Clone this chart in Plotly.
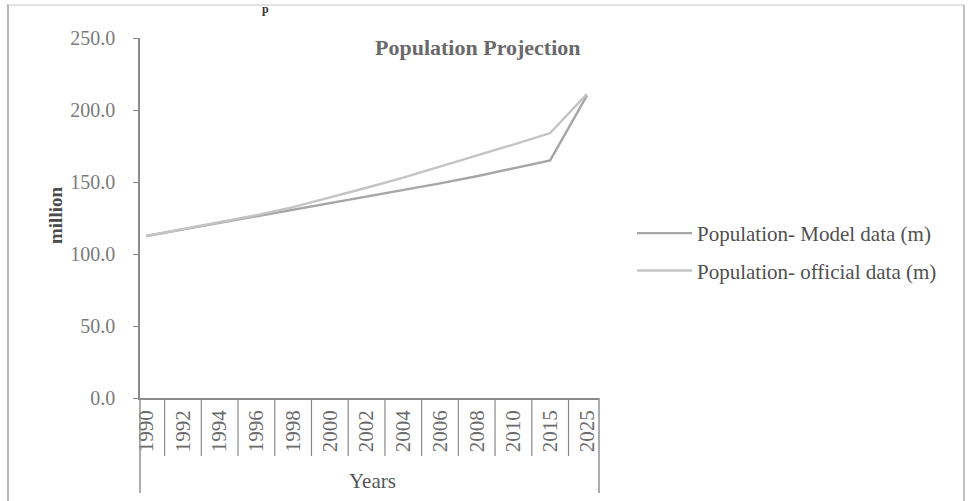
import plotly.graph_objects as go

# Population projection, model vs official figures (million)
years = ["1990", "1992", "1994", "1996", "1998", "2000", "2002",
         "2004", "2006", "2008", "2010", "2015", "2025"]
model_pop = [112.5, 117.0, 121.5, 126.0, 130.5, 135.0, 139.5,
             144.0, 149.0, 154.0, 159.5, 165.0, 210.0]
official_pop = [112.5, 117.3, 122.0, 127.0, 132.5, 139.0, 146.0,
                153.0, 160.5, 168.0, 176.0, 184.0, 211.0]
y_ticks = [0, 50, 100, 150, 200, 250]

SERIF = "Liberation Serif, Times New Roman, serif"
W, H = 969, 501
L, R, T, B = 140, 370, 38, 103
plot_w = W - L - R
plot_h = H - T - B


def px_x(x):
    return (x - L) / plot_w


def px_y(y):
    return (H - B - y) / plot_h


fig = go.Figure()
fig.add_trace(go.Scatter(
    x=years, y=model_pop, mode="lines",
    name="Population- Model data (m)",
    line=dict(color="#a6a6a6", width=2.4),
    legendgroup="a",
))
fig.add_trace(go.Scatter(
    x=years, y=official_pop, mode="lines",
    name="Population- official data (m)",
    line=dict(color="#c4c4c4", width=2.4),
    legendgroup="b",
))

n = len(years)
shapes = []
# separators between the category labels
for i in range(n - 1):
    shapes.append(dict(type="line", xref="x", yref="paper",
                       x0=i + 0.5, x1=i + 0.5, y0=0, y1=px_y(456),
                       line=dict(color="#8a8a8a", width=1.2)))
# left and right edges of the category table
for xp in (0, 1):
    shapes.append(dict(type="line", xref="paper", yref="paper",
                       x0=xp, x1=xp, y0=0, y1=px_y(493),
                       line=dict(color="#8a8a8a", width=1.4)))
# chart frame
shapes.append(dict(type="line", xref="paper", yref="paper",
                   x0=px_x(6), x1=px_x(964), y0=px_y(5), y1=px_y(5),
                   line=dict(color="#c8c8c8", width=1.2)))
shapes.append(dict(type="line", xref="paper", yref="paper",
                   x0=px_x(8), x1=px_x(8), y0=px_y(5), y1=px_y(501),
                   line=dict(color="#9a9a9a", width=1.4)))
shapes.append(dict(type="line", xref="paper", yref="paper",
                   x0=px_x(964), x1=px_x(964), y0=px_y(5), y1=px_y(501),
                   line=dict(color="#aaaaaa", width=1.4)))

annotations = [
    dict(text="<b>Population Projection</b>", xref="paper", yref="paper",
         x=px_x(478), y=px_y(47), xanchor="center", yanchor="middle",
         showarrow=False, font=dict(family=SERIF, size=22, color="#6a6a6a")),
    dict(text="<b>million</b>", xref="paper", yref="paper",
         x=px_x(55), y=px_y(216), xanchor="center", yanchor="middle",
         textangle=-90, showarrow=False,
         font=dict(family=SERIF, size=19, color="#4a4a4a")),
    dict(text="Years", xref="paper", yref="paper",
         x=px_x(372), y=px_y(481), xanchor="center", yanchor="middle",
         showarrow=False, font=dict(family=SERIF, size=21, color="#555555")),
    dict(text="<b>p</b>", xref="paper", yref="paper",
         x=px_x(265), y=px_y(0), xanchor="center", yanchor="top",
         showarrow=False, font=dict(family=SERIF, size=12, color="#333333")),
]

fig.update_layout(
    width=W, height=H,
    margin=dict(l=L, r=R, t=T, b=B, pad=0),
    paper_bgcolor="white", plot_bgcolor="white",
    showlegend=True,
    legend=dict(
        x=px_x(632), y=px_y(213), xanchor="left", yanchor="top",
        font=dict(family=SERIF, size=21, color="#505050"),
        bgcolor="rgba(0,0,0,0)", tracegroupgap=7,
        traceorder="grouped", itemwidth=55,
    ),
    xaxis=dict(
        type="category", categoryorder="array", categoryarray=years,
        range=[-0.17, n - 1 + 0.33],
        showgrid=False, zeroline=False,
        showline=True, linecolor="#8a8a8a", linewidth=1.5,
        ticks="", tickangle=-90, ticklabelstandoff=2,
        tickfont=dict(family=SERIF, size=21, color="#6a6a6a"),
    ),
    yaxis=dict(
        range=[0, 250], tickvals=y_ticks, tickformat=".1f",
        showgrid=False, zeroline=False,
        showline=True, linecolor="#8a8a8a", linewidth=1.5,
        ticks="outside", ticklen=5, tickcolor="#8a8a8a",
        ticklabelstandoff=14,
        tickfont=dict(family=SERIF, size=20, color="#7a7a7a"),
    ),
    shapes=shapes,
    annotations=annotations,
)

fig.write_html("out.html")
